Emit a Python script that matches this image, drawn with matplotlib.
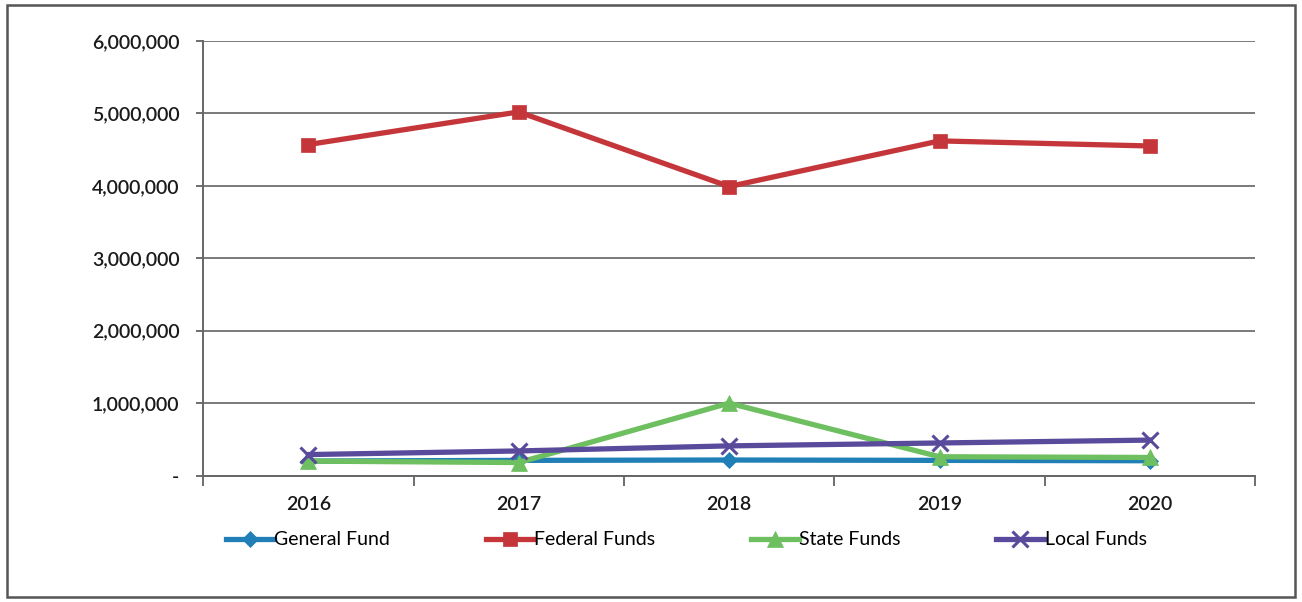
import matplotlib
matplotlib.use('Agg')
import matplotlib.pyplot as plt
from matplotlib.patches import Rectangle
from matplotlib.ticker import FuncFormatter, FixedLocator

plt.rcParams['font.family'] = ['Lato', 'DejaVu Sans']
plt.rcParams['font.weight'] = 'semibold'

years = ['2016', '2017', '2018', '2019', '2020']
general_fund = [200000, 210000, 215000, 210000, 205000]
federal_funds = [4570000, 5020000, 3990000, 4620000, 4550000]
state_funds = [200000, 180000, 1000000, 260000, 250000]
local_funds = [290000, 340000, 410000, 450000, 490000]

series = [
    ('General Fund', general_fund, '#1f7fb6', 'D', 8),
    ('Federal Funds', federal_funds, '#c5363a', 's', 10),
    ('State Funds', state_funds, '#6dbf5f', '^', 11),
    ('Local Funds', local_funds, '#5a4a9c', 'x', 11),
]

fig = plt.figure(figsize=(13.02, 6.02), dpi=100)
ax = fig.add_axes([0.156, 0.21, 0.808, 0.722])

x = range(len(years))
for label, vals, color, marker, ms in series:
    ax.plot(x, vals, color=color, lw=3.8, marker=marker, markersize=ms,
            markeredgewidth=2.2 if marker == 'x' else 0.5,
            markeredgecolor=color, label=label, zorder=3)

ax.set_xlim(-0.5, len(years) - 0.5)
ax.set_ylim(0, 6000000)
ax.set_yticks(range(0, 6000001, 1000000))
ax.yaxis.set_major_formatter(FuncFormatter(lambda v, p: '-' if v == 0 else f'{int(v):,}'))
ax.grid(axis='y', color='#7a7a7a', lw=1.4, zorder=1)

# category labels centered, tick marks between categories
ax.set_xticks(list(x))
ax.set_xticklabels(years)
ax.xaxis.set_minor_locator(FixedLocator([i - 0.5 for i in range(len(years) + 1)]))
ax.tick_params(axis='x', which='major', length=0, pad=15, labelsize=14)
ax.tick_params(axis='x', which='minor', length=7, width=1.2, color='#555555', direction='out')
ax.tick_params(axis='y', length=5, width=1.2, color='#555555', pad=12, labelsize=14)
for t in ax.get_xticklabels() + ax.get_yticklabels():
    t.set_color('#1a1a1a')

for side in ['top', 'right']:
    ax.spines[side].set_visible(False)
for side in ['left', 'bottom']:
    ax.spines[side].set_color('#666666')
    ax.spines[side].set_linewidth(1.4)

fig.legend(loc='center', bbox_to_anchor=(0.527, 0.103), ncol=4, frameon=False,
           prop={'size': 14, 'weight': 'normal'},
           handlelength=2.5, handletextpad=0.0, columnspacing=4.9)

# outer chart border
fig.patches.append(Rectangle((0.005, 0.008), 0.99, 0.984, transform=fig.transFigure,
                             fill=False, edgecolor='#555555', lw=1.8))

fig.savefig('out.png', dpi=100, facecolor='white')
